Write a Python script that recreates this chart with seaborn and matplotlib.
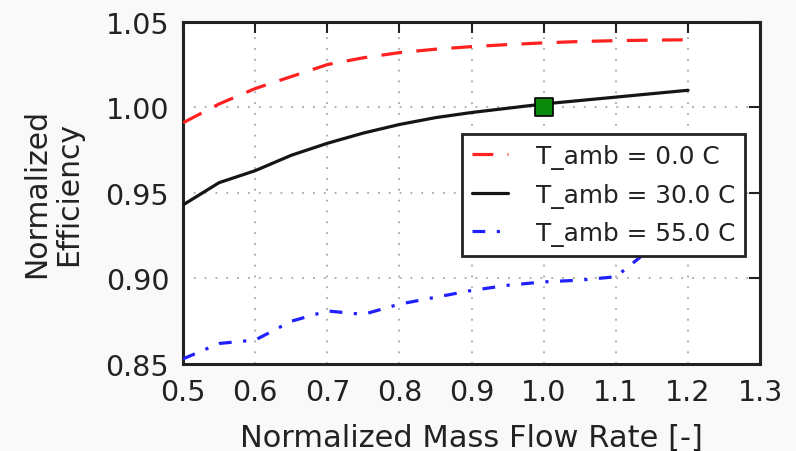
import numpy as np
import pandas as pd
import matplotlib
matplotlib.use("Agg")
import matplotlib.pyplot as plt
import seaborn as sns

# ---- data ----
flow_rate = [0.5, 0.55, 0.6, 0.65, 0.7, 0.75, 0.8, 0.85, 0.9, 0.95, 1.0, 1.05, 1.1, 1.15, 1.2]
eff_0C = [0.991, 1.002, 1.011, 1.018, 1.025, 1.029, 1.032, 1.034, 1.0355, 1.0367, 1.0377, 1.0385, 1.039, 1.0393, 1.0395]
eff_30C = [0.943, 0.956, 0.963, 0.972, 0.979, 0.985, 0.990, 0.994, 0.997, 0.9995, 1.002, 1.004, 1.006, 1.008, 1.010]
eff_55C = [0.853, 0.862, 0.864, 0.875, 0.881, 0.879, 0.885, 0.889, 0.893, 0.896, 0.898, 0.899, 0.901, 0.918, 0.935]
labels = ["T_amb = 0.0 C", "T_amb = 30.0 C", "T_amb = 55.0 C"]
design_x = [1.0]
design_y = [1.0]
x_ticks = [0.5, 0.6, 0.7, 0.8, 0.9, 1.0, 1.1, 1.2, 1.3]
y_ticks = [0.85, 0.90, 0.95, 1.00, 1.05]

df = pd.concat([
    pd.DataFrame({"x": flow_rate, "y": eff_0C, "case": labels[0]}),
    pd.DataFrame({"x": flow_rate, "y": eff_30C, "case": labels[1]}),
    pd.DataFrame({"x": flow_rate, "y": eff_55C, "case": labels[2]}),
])

sns.set_style("white")
plt.rcParams["font.family"] = ["DejaVu Sans"]

fig = plt.figure(figsize=(7.96, 4.52), dpi=100, facecolor="#f9f9fa")
ax = fig.add_axes([0.23, 0.1925, 0.725, 0.757])
ax.set_facecolor("white")

palette = {labels[0]: "#ff2020", labels[1]: "#151515", labels[2]: "#2020ff"}
dashes = {labels[0]: (6.5, 4.5), labels[1]: "", labels[2]: (4, 3.6, 1, 3.6)}

sns.lineplot(data=df, x="x", y="y", hue="case", style="case", palette=palette,
             dashes=dashes, linewidth=2.3, ax=ax, legend=True, zorder=3)
sns.scatterplot(x=design_x, y=design_y, marker="s", s=180, color="#0a8a0a",
                edgecolor="black", linewidth=1.2, ax=ax, zorder=5, legend=False)

ax.set_xlim(0.5, 1.3)
ax.set_ylim(0.85, 1.05)
ax.set_xticks(x_ticks)
ax.set_xticklabels([f"{v:.1f}" for v in x_ticks])
ax.set_yticks(y_ticks)
ax.set_yticklabels([f"{v:.2f}" for v in y_ticks])

ax.grid(True, linestyle=(0, (1, 5)), color="#a8a8a8", linewidth=1.3)
ax.tick_params(direction="in", length=8, width=1.5, top=True, right=True,
               labelsize=20.5, colors="#222222", pad=10)
for s in ax.spines.values():
    s.set_linewidth(2.2)
    s.set_color("#222222")
    s.set_visible(True)

ax.set_xlabel("Normalized Mass Flow Rate [-]", fontsize=22, color="#222222", labelpad=12)
ax.set_ylabel("Normalized\nEfficiency", fontsize=21.5, color="#222222", labelpad=16,
              linespacing=1.15)

leg = ax.legend(loc="upper left", bbox_to_anchor=(0.483, 0.672), fontsize=17.8,
                frameon=True, fancybox=False, handlelength=1.45, handletextpad=1.15,
                borderpad=0.4, labelspacing=0.55, borderaxespad=0)
leg.get_frame().set_edgecolor("#222222")
leg.get_frame().set_linewidth(2.0)
leg.get_frame().set_facecolor("white")
leg.get_frame().set_alpha(1.0)
leg.set_zorder(10)
for t in leg.get_texts():
    t.set_color("#222222")

fig.savefig("out.png", dpi=100, facecolor=fig.get_facecolor())
